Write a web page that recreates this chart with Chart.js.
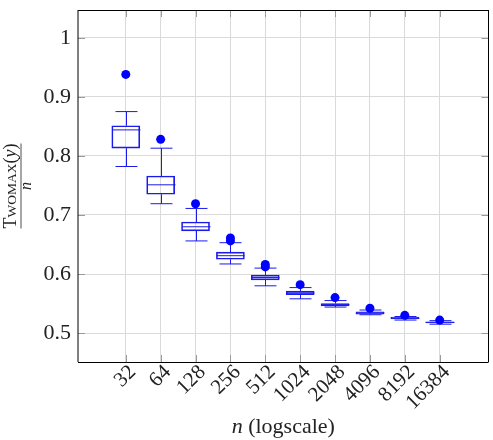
<!DOCTYPE html>
<html>
<head>
<meta charset="utf-8">
<script src="https://cdn.jsdelivr.net/npm/chart.js@4/dist/chart.umd.min.js"></script>
<style>
  html, body { margin: 0; padding: 0; background: #fff; }
  #wrap { width: 493px; height: 440px; }
</style>
</head>
<body>
<div id="wrap"><canvas id="chart" width="493" height="440"></canvas></div>
<script>
// x positions are log2(n)
const EXPONENTS = [5, 6, 7, 8, 9, 10, 11, 12, 13, 14];
const WHISKER_LOW  = [0.782, 0.719, 0.656, 0.617, 0.580, 0.558, 0.544, 0.531, 0.522, 0.515];
const Q1           = [0.813, 0.735, 0.673, 0.625, 0.590, 0.565, 0.546, 0.532, 0.524, 0.517];
const MEDIAN       = [0.844, 0.751, 0.680, 0.631, 0.594, 0.568, 0.548, 0.534, 0.525, 0.518];
const Q3           = [0.851, 0.766, 0.688, 0.637, 0.598, 0.571, 0.550, 0.536, 0.527, 0.519];
const WHISKER_HIGH = [0.875, 0.813, 0.711, 0.653, 0.610, 0.577, 0.555, 0.539, 0.528, 0.521];
const OUTLIER_EXP    = [5, 6, 7, 8, 8, 9, 9, 10, 11, 12, 13, 14];
const OUTLIER_VALUES = [0.938, 0.828, 0.719, 0.661, 0.656, 0.616, 0.612, 0.582, 0.560, 0.542, 0.530, 0.522];
const Y_TICKS = [0.5, 0.6, 0.7, 0.8, 0.9, 1];

const BLUE = '#1a1aeb';
const GRID = '#dadada';
const SERIF = '"Liberation Serif", "DejaVu Serif", serif';

const boxExtras = {
  id: 'boxExtras',
  afterDatasetDraw(chart, args) {
    if (args.index !== 1) return;
    const { ctx, scales: { x, y } } = chart;
    const capHalf = 11, boxHalf = 14;
    ctx.save();
    ctx.strokeStyle = BLUE;
    ctx.lineWidth = 1;
    EXPONENTS.forEach((e, i) => {
      const px = Math.round(x.getPixelForValue(e)) + 0.5;
      const seg = (x1, y1, x2, y2) => { ctx.beginPath(); ctx.moveTo(x1, y1); ctx.lineTo(x2, y2); ctx.stroke(); };
      const yLo = y.getPixelForValue(WHISKER_LOW[i]);
      const yHi = y.getPixelForValue(WHISKER_HIGH[i]);
      const yQ1 = y.getPixelForValue(Q1[i]);
      const yQ3 = y.getPixelForValue(Q3[i]);
      const yMed = y.getPixelForValue(MEDIAN[i]);
      seg(px, yHi, px, yQ3);
      seg(px, yQ1, px, yLo);
      seg(px - capHalf, yHi, px + capHalf, yHi);
      seg(px - capHalf, yLo, px + capHalf, yLo);
      seg(px - boxHalf, yMed, px + boxHalf, yMed);
    });
    ctx.restore();
  },
  afterDraw(chart) {
    const { ctx, chartArea: a, scales: { x, y } } = chart;
    ctx.save();
    // inner tick marks
    ctx.strokeStyle = '#9a9a9a';
    ctx.lineWidth = 1;
    const tl = 7;
    Y_TICKS.forEach(v => {
      const py = Math.round(y.getPixelForValue(v)) + 0.5;
      ctx.beginPath(); ctx.moveTo(a.left, py); ctx.lineTo(a.left + tl, py); ctx.stroke();
      ctx.beginPath(); ctx.moveTo(a.right, py); ctx.lineTo(a.right - tl, py); ctx.stroke();
    });
    EXPONENTS.forEach(e => {
      const px = Math.round(x.getPixelForValue(e)) + 0.5;
      ctx.beginPath(); ctx.moveTo(px, a.top); ctx.lineTo(px, a.top + tl); ctx.stroke();
      ctx.beginPath(); ctx.moveTo(px, a.bottom); ctx.lineTo(px, a.bottom - tl); ctx.stroke();
    });
    // frame
    ctx.strokeStyle = '#000';
    ctx.lineWidth = 1;
    ctx.beginPath();
    ctx.moveTo(a.left, a.top + 0.5); ctx.lineTo(a.right, a.top + 0.5);
    ctx.moveTo(a.left, a.bottom + 0.5); ctx.lineTo(a.right, a.bottom + 0.5);
    ctx.moveTo(a.left, a.top); ctx.lineTo(a.left, a.bottom);
    ctx.moveTo(a.right, a.top); ctx.lineTo(a.right, a.bottom);
    ctx.stroke();

    // x title: italic n + (logscale)
    ctx.fillStyle = '#222';
    ctx.textBaseline = 'alphabetic';
    const cx = (a.left + a.right) / 2;
    ctx.font = 'italic 22px ' + SERIF;
    const wN = ctx.measureText('n').width;
    ctx.font = '22px ' + SERIF;
    const rest = ' (logscale)';
    const wR = ctx.measureText(rest).width;
    const sx = cx - (wN + wR) / 2;
    ctx.font = 'italic 22px ' + SERIF;
    ctx.fillText('n', sx, 433);
    ctx.font = '22px ' + SERIF;
    ctx.fillText(rest, sx + wN, 433);

    // y title: fraction Twomax(y) / n, rotated
    const cy = (a.top + a.bottom) / 2;
    ctx.translate(21, cy);
    ctx.rotate(-Math.PI / 2);
    const parts = [
      { t: 'T', f: '18px ' + SERIF },
      { t: 'WOMAX', f: '13.5px ' + SERIF },
      { t: '(', f: '18px ' + SERIF },
      { t: 'y', f: 'italic 18px ' + SERIF },
      { t: ')', f: '18px ' + SERIF },
    ];
    let total = 0;
    parts.forEach(p => { ctx.font = p.f; p.w = ctx.measureText(p.t).width; total += p.w; });
    let px = -total / 2;
    parts.forEach(p => { ctx.font = p.f; ctx.fillText(p.t, px, -5); px += p.w; });
    ctx.strokeStyle = '#222';
    ctx.lineWidth = 0.8;
    ctx.beginPath(); ctx.moveTo(-total / 2, 0); ctx.lineTo(total / 2, 0); ctx.stroke();
    ctx.font = 'italic 16px ' + SERIF;
    ctx.textAlign = 'center';
    ctx.fillText('n', 0, 10);
    ctx.restore();
  }
};

new Chart(document.getElementById('chart'), {
  data: {
    datasets: [
      {
        type: 'scatter',
        data: OUTLIER_EXP.map((e, i) => ({ x: e, y: OUTLIER_VALUES[i] })),
        backgroundColor: '#0000ff',
        borderColor: '#0000ff',
        pointRadius: 4.5,
        pointBorderWidth: 0,
      },
      {
        type: 'bar',
        data: EXPONENTS.map((e, i) => ({ x: e, y: [Q1[i], Q3[i]] })),
        backgroundColor: 'rgba(255,255,255,0)',
        borderColor: BLUE,
        borderWidth: 1,
        borderSkipped: false,
        barThickness: 28,
      },
    ],
  },
  options: {
    responsive: false,
    animation: false,
    events: [],
    layout: { padding: { top: 0, right: 3, left: 0, bottom: 0 } },
    plugins: { legend: { display: false }, tooltip: { enabled: false } },
    scales: {
      x: {
        type: 'linear',
        offset: false,
        min: 3.63,
        max: 15.4,
        afterBuildTicks: (s) => { s.ticks = EXPONENTS.map(v => ({ value: v })); },
        afterFit: (s) => { s.height = 78; s.paddingLeft = 0; s.paddingRight = 0; },
        grid: { color: GRID, drawTicks: false, offset: false },
        border: { display: false },
        ticks: {
          color: '#222',
          font: { family: SERIF, size: 21 },
          minRotation: 45,
          maxRotation: 45,
          padding: -2,
          labelOffset: 7,
          callback: (v) => String(Math.pow(2, v)),
        },
      },
      y: {
        min: 0.451,
        max: 1.047,
        afterBuildTicks: (s) => { s.ticks = Y_TICKS.map(v => ({ value: v })); },
        afterFit: (s) => { s.width = 78; s.paddingTop = 10; s.paddingBottom = 0; },
        grid: { color: GRID, drawTicks: false },
        border: { display: false },
        ticks: {
          color: '#222',
          font: { family: SERIF, size: 22 },
          padding: 7,
          callback: (v) => (v === 1 ? '1' : v.toFixed(1)),
        },
      },
    },
  },
  plugins: [boxExtras],
});
</script>
</body>
</html>
